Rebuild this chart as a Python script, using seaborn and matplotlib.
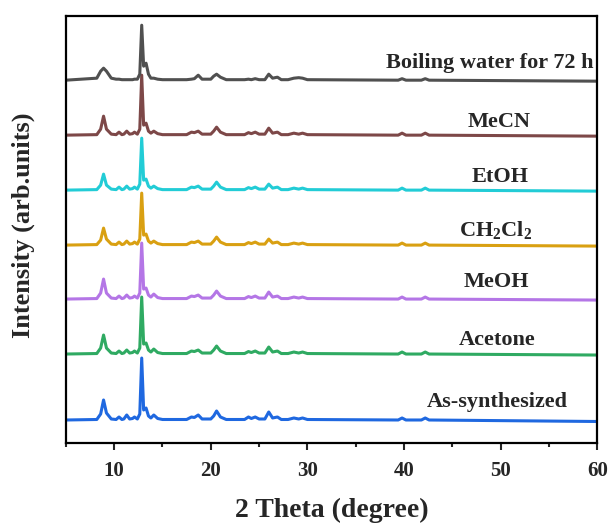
import matplotlib
matplotlib.use('Agg')
import matplotlib.pyplot as plt
from matplotlib.ticker import MultipleLocator
import seaborn as sns
import pandas as pd

# shared 2-theta sampling points (degrees)
theta = [5.0, 8.2, 8.6, 8.9, 9.2, 9.7, 10.2, 10.5, 10.8, 11.0, 11.3, 11.6, 11.9,
         12.1, 12.4, 12.65, 12.85, 13.05, 13.3, 13.55, 13.8, 14.1, 14.5, 15.0,
         17.5, 18.0, 18.3, 18.7, 19.1, 20.0, 20.3, 20.6, 21.0, 21.6, 23.5, 23.9,
         24.2, 24.6, 25.0, 25.6, 26.0, 26.4, 26.9, 27.3, 28.0, 28.6, 29.1, 29.5,
         30.0, 39.4, 39.8, 40.2, 41.8, 42.2, 42.6, 60.0]

# intensities above each trace's baseline (arb. units)
as_synth = [0, 0.5, 6, 20, 7, 1, 0.5, 3, 0.5, 1, 5, 1, 1.5,
            3, 1, 6, 62, 10, 12, 4, 2, 5, 1.5, 0.5,
            0.5, 3, 2.5, 5, 1, 1, 4, 9, 3, 0.5, 0.5, 3,
            1.5, 3, 1, 1, 8, 2, 3, 0.5, 0.5, 2, 1, 2,
            0.5, 0, 2, 0, 0, 2, 0, -1.5]
acetone = [0, 0.5, 6, 19, 6, 1, 0.5, 3, 0.5, 1, 4, 1, 1.5,
           3, 1, 6, 57, 10, 11, 4, 2, 5, 1.5, 0.5,
           0.5, 3, 2.5, 4, 1, 1, 4, 8, 3, 0.5, 0.5, 2.5,
           1.5, 3, 1, 1, 7, 2, 3, 0.5, 0.5, 2, 1, 2,
           0.5, 0, 2, 0, 0, 2, 0, -1]
meoh = [0, 0.5, 6, 20, 6, 1, 0.5, 3, 0.5, 1, 4, 1, 1.5,
        3, 1, 6, 56, 10, 11, 4, 2, 5, 1.5, 0.5,
        0.5, 3, 2.5, 4, 1, 1, 4, 8, 3, 0.5, 0.5, 2.5,
        1.5, 3, 1, 1, 7, 2, 3, 0.5, 0.5, 2, 1, 2,
        0.5, 0, 2, 0, 0, 2, 0, -1]
ch2cl2 = [0, 0.5, 5, 17, 6, 1, 0.5, 3, 0.5, 1, 4, 1, 1.5,
          3, 1, 6, 52, 10, 11, 4, 2, 4, 1.5, 0.5,
          0.5, 3, 2.5, 4, 1, 1, 4, 8, 3, 0.5, 0.5, 2.5,
          1.5, 3, 1, 1, 6, 2, 3, 0.5, 0.5, 2, 1, 2,
          0.5, 0, 2, 0, 0, 2, 0, -1]
etoh = [0, 0.5, 5, 16, 5, 1, 0.5, 3, 0.5, 1, 4, 1, 1.5,
        3, 1, 6, 52, 10, 11, 4, 2, 4, 1.5, 0.5,
        0.5, 3, 2.5, 4, 1, 1, 4, 8, 3, 0.5, 0.5, 2.5,
        1.5, 3, 1, 1, 6, 2, 3, 0.5, 0.5, 2, 1, 2,
        0.5, 0, 2, 0, 0, 2, 0, -1]
mecn = [0, 0.5, 6, 19, 6, 1, 0.5, 3, 0.5, 1, 4, 1, 1.5,
        3, 1, 6, 60, 10, 12, 4, 2, 4, 1.5, 0.5,
        0.5, 3, 2.5, 4, 1, 1, 4, 8, 3, 0.5, 0.5, 2.5,
        1.5, 3, 1, 1, 7, 2, 3, 0.5, 0.5, 2, 1, 2,
        0.5, 0, 2, 0, 0, 2, 0, -1]
boiling = [0, 2, 9, 12, 9, 2, 1, 1, 0.5, 0.5, 0.5, 0.5, 0.5,
           1, 1, 6, 55, 14, 17, 6, 2, 2, 1, 0.5,
           0.5, 1, 1.5, 5, 1, 1, 4, 6, 3, 0.5, 0.5, 1,
           0.5, 1.5, 0.5, 0.5, 6, 2, 3, 0.5, 0.5, 2, 2.5, 2,
           0.5, 0, 1.5, 0, 0, 1.5, 0, -1]

samples = ['As-synthesized', 'Acetone', 'MeOH', 'CH$_2$Cl$_2$', 'EtOH', 'MeCN',
           'Boiling water for 72 h']
series = [as_synth, acetone, meoh, ch2cl2, etoh, mecn, boiling]
offsets = [23, 89, 144, 198, 253, 308, 363]
colors = ['#1f68e0', '#2faa62', '#b476e6', '#d9a012', '#22ccd6', '#7d4848', '#505050']
label_x = [49.7, 49.6, 49.6, 49.5, 49.9, 49.8, 48.9]
label_y = [41, 103, 161, 213, 266, 321, 380]

rows = []
for name, vals, off in zip(samples, series, offsets):
    assert len(vals) == len(theta)
    for t, v in zip(theta, vals):
        rows.append({'theta': t, 'intensity': v + off, 'sample': name})
df = pd.DataFrame(rows)

sns.set_style('ticks')
plt.rcParams['font.family'] = ['Liberation Serif', 'DejaVu Serif']
plt.rcParams['font.weight'] = 'bold'
plt.rcParams['mathtext.fontset'] = 'custom'
plt.rcParams['mathtext.rm'] = 'Liberation Serif:bold'
plt.rcParams['mathtext.default'] = 'rm'

fig = plt.figure(figsize=(6.1, 5.23), dpi=100)
ax = fig.add_axes([0.108, 0.153, 0.871, 0.816])

sns.lineplot(data=df, x='theta', y='intensity', hue='sample', hue_order=samples,
             palette=dict(zip(samples, colors)), estimator=None, sort=False,
             legend=False, linewidth=2.2, ax=ax)

for name, lx, ly in zip(samples, label_x, label_y):
    ax.text(lx, ly, name, ha='center', va='center', fontsize=16, fontweight='bold')

ax.set_xlim(5, 60)
ax.set_ylim(0, 427)
ax.xaxis.set_major_locator(MultipleLocator(10))
ax.xaxis.set_minor_locator(MultipleLocator(5))
ax.set_yticks([])
ax.tick_params(axis='x', which='major', direction='out', length=5, width=1.5,
               labelsize=15, pad=8)
ax.tick_params(axis='x', which='minor', direction='out', length=3, width=1.5)
for lab in ax.get_xticklabels():
    lab.set_fontweight('bold')
for sp in ax.spines.values():
    sp.set_linewidth(1.6)
    sp.set_color('black')

ax.set_xlabel('2 Theta (degree)', fontsize=20, fontweight='bold', labelpad=12)
ax.set_ylabel('Intensity (arb.units)', fontsize=19, fontweight='bold')
ax.yaxis.set_label_coords(-0.058, 0.51)

fig.savefig('out.png', dpi=100)
